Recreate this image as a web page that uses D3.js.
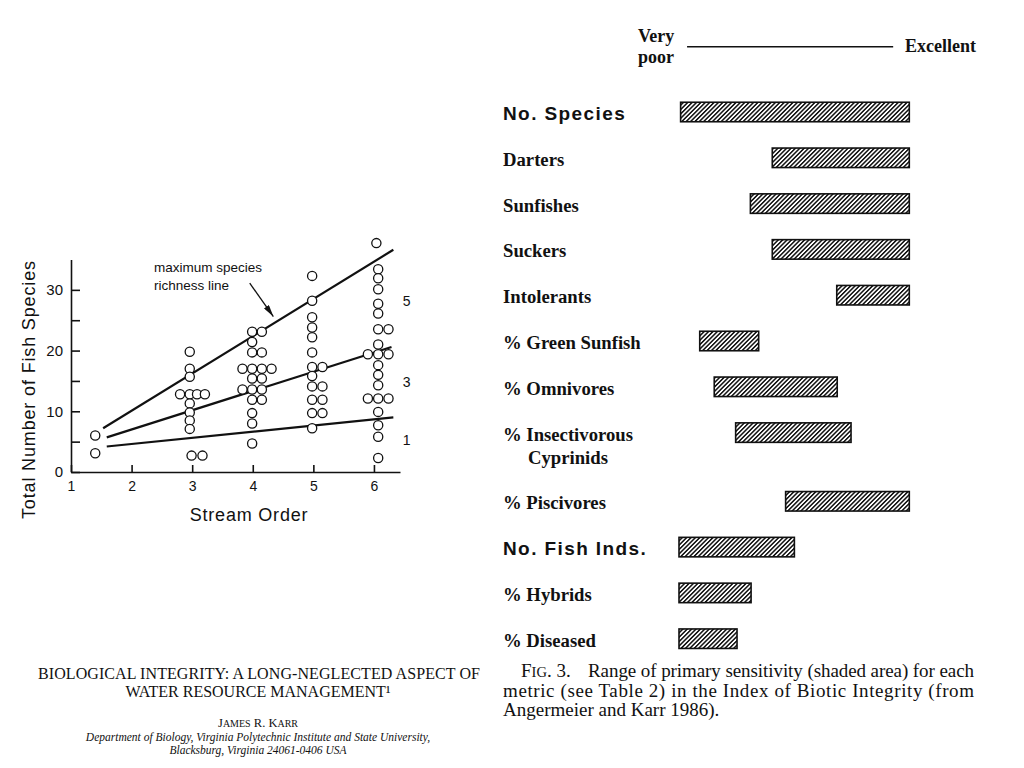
<!DOCTYPE html>
<html>
<head>
<meta charset="utf-8">
<script src="https://cdn.jsdelivr.net/npm/d3@7"></script>
<style>
  body { margin: 0; background: #fff; }
</style>
</head>
<body>
<svg id="fig" width="1024" height="768"></svg>
<script>
// ---- left panel: number of fish species by stream order ----
var streamOrder = [
  1.40, 1.40,
  2.96, 2.96, 2.96, 2.80, 2.96, 3.08, 3.21, 2.96, 2.96, 2.96, 2.96, 2.99, 3.17,
  3.99, 4.15, 3.99, 3.99, 4.15, 3.83, 3.99, 4.15, 4.31, 3.99, 4.15, 3.83, 3.99, 4.15, 3.99, 4.15, 3.99, 3.99, 3.99,
  4.98, 4.98, 4.98, 4.98, 4.98, 4.98, 4.98, 5.15, 4.98, 4.98, 5.15, 4.98, 5.15, 4.98, 5.15, 4.98,
  6.04, 6.07, 6.07, 6.07, 6.07, 6.07, 6.07, 6.24, 6.07, 5.90, 6.07, 6.24, 6.07, 6.07, 6.07, 5.90, 6.07, 6.24, 6.07, 6.07, 6.07, 6.07
];
var speciesCount = [
  6.0, 3.1,
  19.8, 17.0, 15.7, 12.8, 12.8, 12.8, 12.8, 11.3, 9.8, 8.5, 7.1, 2.7, 2.7,
  23.1, 23.1, 21.4, 19.7, 19.7, 17.0, 17.0, 17.0, 17.0, 15.4, 15.4, 13.6, 13.6, 13.6, 11.9, 11.9, 9.7, 8.0, 4.7,
  32.3, 28.2, 25.5, 23.8, 22.2, 19.7, 17.3, 17.3, 15.8, 14.1, 14.1, 11.9, 11.9, 9.7, 9.7, 7.2,
  37.7, 33.4, 31.9, 30.1, 27.7, 26.1, 23.5, 23.5, 21.0, 19.4, 19.4, 19.4, 17.6, 16.0, 14.3, 12.1, 12.1, 12.1, 9.9, 7.7, 5.8, 2.3
];
var orderTicks = [1, 2, 3, 4, 5, 6];
var speciesTicks = [0, 5, 10, 15, 20, 25, 30];
var fitNames = ["5", "3", "1"];
var fitStart = [[1.53, 7.2], [1.59, 5.7], [1.59, 4.2]];
var fitEnd = [[6.32, 36.6], [6.29, 20.6], [6.32, 9.0]];
var fitLabelAt = [28.1, 14.9, 5.2];

// ---- right panel: range of primary sensitivity (0 = very poor, 100 = excellent) ----
var metrics = ["No. Species", "Darters", "Sunfishes", "Suckers", "Intolerants",
  "% Green Sunfish", "% Omnivores", "% Insectivorous\nCyprinids", "% Piscivores",
  "No. Fish Inds.", "% Hybrids", "% Diseased"];
var sensLow  = [0.7, 40.5, 31.0, 40.5, 68.5, 9.0, 15.3, 24.6, 46.3, 0, 0, 0];
var sensHigh = [100, 100, 100, 100, 100, 34.6, 68.7, 74.7, 100, 50.1, 31.3, 25.2];

var sans = "'Liberation Sans', Arial, sans-serif";
var serif = "'Liberation Serif', 'Times New Roman', serif";

var svg = d3.select("#fig");

// ================= scatter plot =================
var x = d3.scaleLinear().domain([1, 6.43]).range([71, 400]);
var y = d3.scaleLinear().domain([0, 35]).range([472, 259.5]);

var xAxis = svg.append("g")
  .attr("transform", "translate(0," + y(0) + ")")
  .call(d3.axisBottom(x).tickValues(orderTicks).tickFormat(d3.format("d"))
    .tickSizeInner(-7).tickSizeOuter(0).tickPadding(9));
var yAxis = svg.append("g")
  .attr("transform", "translate(" + x(1) + ",0)")
  .call(d3.axisLeft(y).tickValues(speciesTicks).tickSizeInner(-9).tickSizeOuter(0).tickPadding(8)
    .tickFormat(d => d % 10 === 0 ? d : ""));

[xAxis, yAxis].forEach(function(g) {
  g.selectAll("path, line").attr("stroke", "#111").attr("stroke-width", 1.6);
  g.selectAll("text").attr("font-family", sans).attr("font-size", 15).attr("fill", "#111");
});
xAxis.selectAll("text").attr("font-size", 14);

svg.append("text")
  .attr("x", 249).attr("y", 521)
  .attr("text-anchor", "middle")
  .attr("font-family", sans).attr("font-size", 18).attr("letter-spacing", 0.8)
  .attr("fill", "#111")
  .text("Stream Order");

svg.append("text")
  .attr("transform", "translate(35,390) rotate(-90)")
  .attr("text-anchor", "middle")
  .attr("font-family", sans).attr("font-size", 18)
  .attr("textLength", 258).attr("lengthAdjust", "spacing")
  .attr("fill", "#111")
  .text("Total Number of Fish Species");

// fitted lines
fitNames.forEach(function(name, i) {
  svg.append("line")
    .attr("x1", x(fitStart[i][0])).attr("y1", y(fitStart[i][1]))
    .attr("x2", x(fitEnd[i][0])).attr("y2", y(fitEnd[i][1]))
    .attr("stroke", "#111").attr("stroke-width", 2.2);
  svg.append("text")
    .attr("x", x(6.54)).attr("y", y(fitLabelAt[i]) + 5)
    .attr("text-anchor", "middle")
    .attr("font-family", sans).attr("font-size", 14).attr("fill", "#111")
    .text(name);
});

// points
svg.append("g")
  .selectAll("circle")
  .data(streamOrder)
  .join("circle")
    .attr("cx", d => x(d))
    .attr("cy", (d, i) => y(speciesCount[i]))
    .attr("r", 4.6)
    .attr("fill", "#fff")
    .attr("stroke", "#111")
    .attr("stroke-width", 1.3);

// annotation
svg.append("defs").append("marker")
  .attr("id", "head")
  .attr("viewBox", "0 0 12 6")
  .attr("refX", 12).attr("refY", 3)
  .attr("markerWidth", 12).attr("markerHeight", 6)
  .attr("markerUnits", "userSpaceOnUse")
  .attr("orient", "auto")
  .append("path").attr("d", "M0,0L12,3L0,6Z").attr("fill", "#111");

svg.append("line")
  .attr("x1", x(3.95)).attr("y1", y(31.1))
  .attr("x2", x(4.34)).attr("y2", y(25.6))
  .attr("stroke", "#111").attr("stroke-width", 1.3)
  .attr("marker-end", "url(#head)");

var note = svg.append("text")
  .attr("font-family", sans).attr("font-size", 13.5).attr("fill", "#111");
note.append("tspan").attr("x", 154).attr("y", 272).text("maximum species");
note.append("tspan").attr("x", 154).attr("y", 289.5).text("richness line");

// ================= sensitivity bars =================
var s = d3.scaleLinear().domain([0, 100]).range([679, 909.3]);

var slots = [], slot = 0;
metrics.forEach(function(m) {
  slots.push(slot);
  slot += m.split("\n").length > 1 ? 1.5 : 1;
});
var row = d3.scaleLinear().domain([0, 1]).range([112, 157.8]);
var barH = 19.5;

var pat = svg.select("defs").append("pattern")
  .attr("id", "hatch")
  .attr("patternUnits", "userSpaceOnUse")
  .attr("width", 3.1).attr("height", 3.1)
  .attr("patternTransform", "rotate(45)");
pat.append("rect").attr("width", 3.1).attr("height", 3.1).attr("fill", "#fff");
pat.append("rect").attr("width", 1.5).attr("height", 3.1).attr("fill", "#111");

// header scale
svg.append("line")
  .attr("x1", s(3.5)).attr("x2", s(93))
  .attr("y1", 46.7).attr("y2", 46.7)
  .attr("stroke", "#111").attr("stroke-width", 1.4);
var hdr = svg.append("g").attr("font-family", serif).attr("font-weight", "bold")
  .attr("font-size", 18).attr("fill", "#111");
hdr.append("text").attr("x", 638).attr("y", 42).text("Very");
hdr.append("text").attr("x", 638).attr("y", 63).text("poor");
hdr.append("text").attr("x", 905).attr("y", 52).text("Excellent");

svg.append("g")
  .selectAll("rect")
  .data(metrics)
  .join("rect")
    .attr("x", (d, i) => s(sensLow[i]))
    .attr("y", (d, i) => row(slots[i]) - barH / 2)
    .attr("width", (d, i) => s(sensHigh[i]) - s(sensLow[i]))
    .attr("height", barH)
    .attr("fill", "url(#hatch)")
    .attr("stroke", "#111")
    .attr("stroke-width", 1.6);

metrics.forEach(function(m, i) {
  var head = m.indexOf("No.") === 0;
  var t = svg.append("text")
    .attr("font-family", head ? sans : serif)
    .attr("font-weight", "bold")
    .attr("font-size", head ? 19 : 18.7)
    .attr("letter-spacing", head ? 1.4 : 0)
    .attr("fill", "#111");
  m.split("\n").forEach(function(line, k) {
    t.append("tspan")
      .attr("x", k === 0 ? 503 : 528)
      .attr("y", row(slots[i]) + 8 + k * 23)
      .text(line);
  });
});

// ================= captions =================
var capL = svg.append("g").attr("font-family", serif).attr("fill", "#111");
capL.append("text").attr("x", 38).attr("y", 679).attr("font-size", 16)
  .attr("textLength", 442).attr("lengthAdjust", "spacing")
  .text("BIOLOGICAL INTEGRITY: A LONG-NEGLECTED ASPECT OF");
capL.append("text").attr("x", 258).attr("y", 697).attr("font-size", 16)
  .attr("text-anchor", "middle")
  .text("WATER RESOURCE MANAGEMENT\u00b9");
var author = capL.append("text").attr("x", 258).attr("y", 727).attr("font-size", 12.5)
  .attr("text-anchor", "middle");
author.append("tspan").text("J");
author.append("tspan").attr("font-size", 10).text("AMES");
author.append("tspan").text(" R. K");
author.append("tspan").attr("font-size", 10).text("ARR");
capL.append("text").attr("x", 258).attr("y", 741).attr("font-size", 11.5)
  .attr("font-style", "italic").attr("text-anchor", "middle")
  .text("Department of Biology, Virginia Polytechnic Institute and State University,");
capL.append("text").attr("x", 258).attr("y", 754).attr("font-size", 11.5)
  .attr("font-style", "italic").attr("text-anchor", "middle")
  .text("Blacksburg, Virginia 24061-0406 USA");

var capR = svg.append("g").attr("font-family", serif).attr("font-size", 19).attr("fill", "#111");
var fig = capR.append("text").attr("x", 521).attr("y", 677);
fig.append("tspan").text("F");
fig.append("tspan").attr("font-size", 14.5).text("IG");
fig.append("tspan").text(". 3.");
capR.append("text").attr("x", 588).attr("y", 677)
  .attr("textLength", 386).attr("lengthAdjust", "spacing")
  .text("Range of primary sensitivity (shaded area) for each");
capR.append("text").attr("x", 503).attr("y", 697)
  .attr("textLength", 471).attr("lengthAdjust", "spacing")
  .text("metric (see Table 2) in the Index of Biotic Integrity (from");
capR.append("text").attr("x", 503).attr("y", 716)
  .text("Angermeier and Karr 1986).");
</script>
</body>
</html>
